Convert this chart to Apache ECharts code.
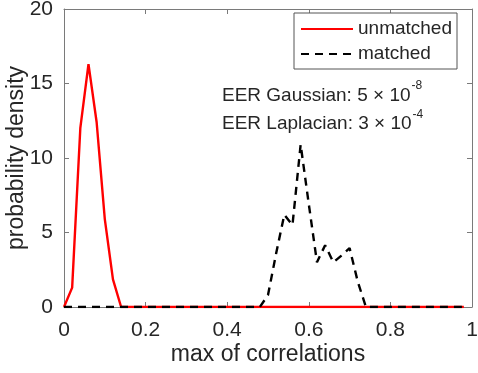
<!DOCTYPE html>
<html>
<head>
<meta charset="utf-8">
<script src="https://cdn.jsdelivr.net/npm/echarts@6/dist/echarts.min.js"></script>
<style>
html,body{margin:0;padding:0;background:#fff;}
#c{width:478px;height:373px;}
</style>
</head>
<body>
<div id="c"></div>
<script>
// bin positions (max of correlations)
var xs = [0.00,0.02,0.04,0.06,0.08,0.10,0.12,0.14,0.16,0.18,
          0.20,0.22,0.24,0.26,0.28,0.30,0.32,0.34,0.36,0.38,
          0.40,0.42,0.44,0.46,0.48,0.50,0.52,0.54,0.56,0.58,
          0.60,0.62,0.64,0.66,0.68,0.70,0.72,0.74,0.76,0.78,
          0.80,0.82,0.84,0.86,0.88,0.90,0.92,0.94,0.96,0.98];
// probability density, unmatched
var unmatched = [0,1.3,12.0,16.3,12.4,5.9,1.85,0,0,0,
                 0,0,0,0,0,0,0,0,0,0,
                 0,0,0,0,0,0,0,0,0,0,
                 0,0,0,0,0,0,0,0,0,0,
                 0,0,0,0,0,0,0,0,0,0];
// probability density, matched
var matched = [0,0,0,0,0,0,0,0,0,0,
               0,0,0,0,0,0,0,0,0,0,
               0,0,0,0,0,0.8,3.6,6.2,5.5,10.9,
               6.9,3.0,4.15,3.0,3.45,3.95,1.7,0,0,0,
               0,0,0,0,0,0,0,0,0,0];
var seriesNames = ['unmatched','matched'];
var xTicks = [0,0.2,0.4,0.6,0.8,1];
var yTicks = [0,5,10,15,20];
var annotations = [
  {label:'EER Gaussian: 5 \u00d7 10', exp:'-8'},
  {label:'EER Laplacian: 3 \u00d7 10', exp:'-4'}
];

function pairs(v){ return xs.map(function(x,i){ return [x, v[i]]; }); }

var FONT = '"Liberation Sans", Arial, Helvetica, sans-serif';
var TXT = '#262626';
var AX = '#7a7a7a';

var chart = echarts.init(document.getElementById('c'), null, {renderer:'canvas'});
var axisCommon = {
  axisLine:{show:true, onZero:false, lineStyle:{color:AX, width:1}},
  axisTick:{show:true, inside:true, length:5, lineStyle:{color:AX, width:1}},
  splitLine:{show:false}
};
chart.setOption({
  animation:false,
  backgroundColor:'#fff',
  grid:{left:64, right:6, top:9, bottom:66, containLabel:false, outerBoundsMode:'none'},
  xAxis:[
    Object.assign({type:'value', min:xTicks[0], max:xTicks[xTicks.length-1], interval:0.2, position:'bottom',
      axisLabel:{fontSize:21, color:TXT, fontFamily:FONT, margin:13},
      name:'max of correlations', nameLocation:'middle', nameGap:36, nameMoveOverlap:false,
      nameTextStyle:{fontSize:23, color:TXT, fontFamily:FONT}}, axisCommon),
    Object.assign({type:'value', min:xTicks[0], max:xTicks[xTicks.length-1], interval:0.2, position:'top',
      axisLabel:{show:false}}, axisCommon)
  ],
  yAxis:[
    Object.assign({type:'value', min:yTicks[0], max:yTicks[yTicks.length-1], interval:5, position:'left',
      axisLabel:{fontSize:21, color:TXT, fontFamily:FONT, margin:11},
      name:'probability density', nameLocation:'middle', nameGap:36, nameMoveOverlap:false,
      nameTextStyle:{fontSize:23, color:TXT, fontFamily:FONT}}, axisCommon),
    Object.assign({type:'value', min:yTicks[0], max:yTicks[yTicks.length-1], interval:5, position:'right',
      axisLabel:{show:false}}, axisCommon)
  ],
  legend:{
    data:seriesNames, orient:'vertical', left:294, top:13,
    padding:[6,5,5,6], itemGap:5, itemWidth:52, itemHeight:14,
    borderColor:'#555', borderWidth:1, backgroundColor:'#fff',
    itemStyle:{opacity:0},
    textStyle:{fontSize:19, color:TXT, fontFamily:FONT, lineHeight:20}
  },
  series:[
    {name:seriesNames[0], type:'line', data:pairs(unmatched), symbol:'none', showSymbol:false,
     lineStyle:{color:'#ff0000', width:2.4}, itemStyle:{color:'#ff0000'}, z:2},
    {name:seriesNames[1], type:'line', data:pairs(matched), symbol:'none', showSymbol:false,
     lineStyle:{color:'#000', width:2.4, type:[8,6]}, itemStyle:{color:'#000'}, z:3}
  ],
  graphic: annotations.map(function(a, i){
    return {type:'text', x:222, y:95.5 + i*28.4,
      style:{text:'{a|' + a.label + '}{s|' + a.exp + '}', verticalAlign:'middle', align:'left',
        rich:{a:{fontSize:19, fontFamily:FONT, fill:TXT, color:TXT},
              s:{fontSize:12, fontFamily:FONT, fill:TXT, color:TXT, padding:[0,0,19,1]}}}};
  })
});
</script>
</body>
</html>
